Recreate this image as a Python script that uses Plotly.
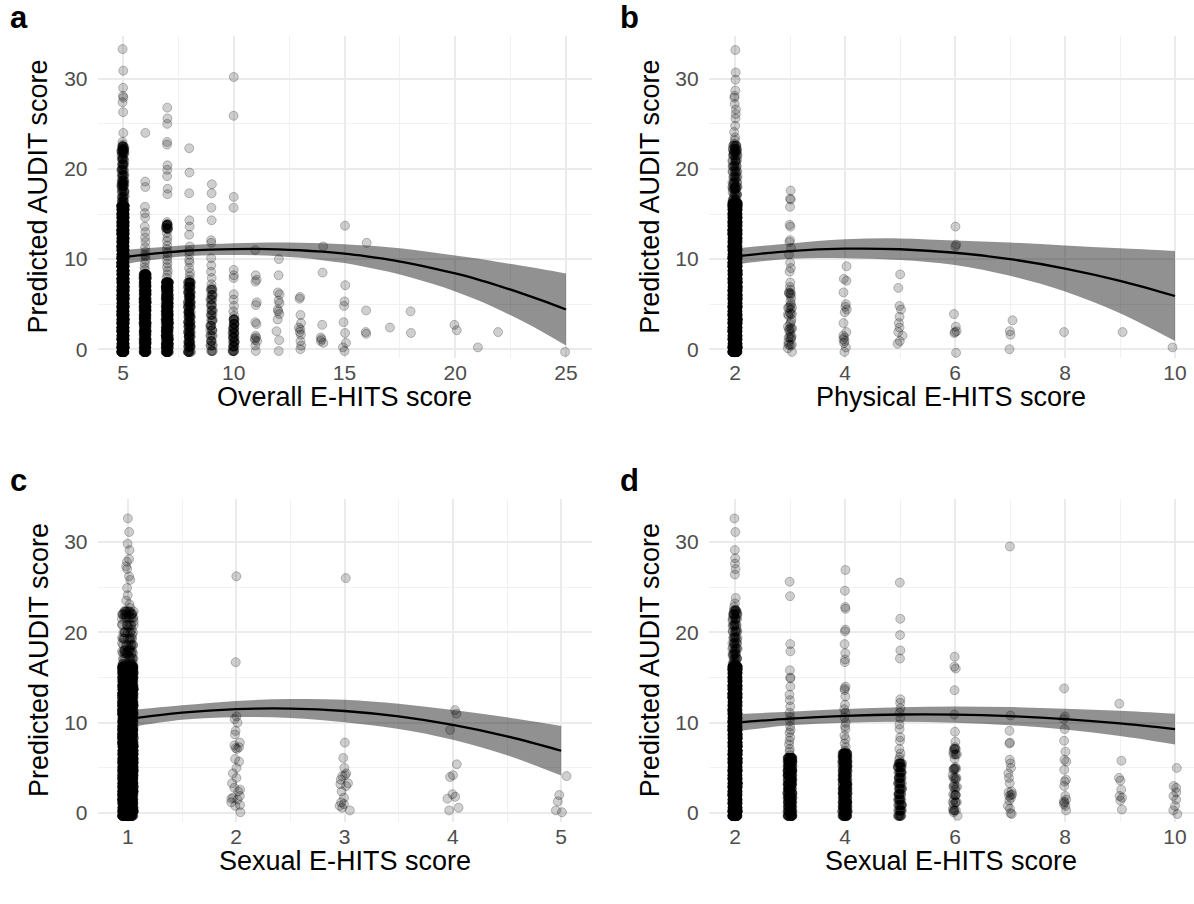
import plotly.graph_objects as go

FONT = "Liberation Sans, Arial, Helvetica, sans-serif"
W, H = 1194, 904

# ---------------------------------------------------------------- data
# Each column: individually visible points (SINGLE), values in the dark-grey part of a
# column (MID, MID_MULT respondents each), values inside the solid black part of a column
# (DENSE) and how many respondents sit on each DENSE value (MULT).

# Panel a : Overall E-HITS score
A_SINGLE = {
    5: [33.3, 30.9, 29.0, 28.1, 27.9, 27.4, 26.3, 24.0, 23.0, 22.7, 22.4, 22.1, 22.0, 21.8, 21.5,
        21.2, 20.9, 20.6, 20.3, 20.0, 19.7, 19.4, 19.1, 18.8, 18.5, 18.2, 18.0, 17.9, 17.7, 17.4,
        17.1, 16.8, 16.5, 16.3],
    6: [24.0, 18.6, 18.0, 15.8, 15.1, 14.6, 13.6, 13.0, 12.4, 11.9, 11.3, 10.8, 10.5, 10.3, 9.9,
        9.5, 9.1, 8.8],
    7: [26.8, 25.6, 25.0, 23.0, 22.7, 20.4, 19.9, 19.2, 17.8, 17.2, 14.1, 13.9, 13.7, 13.5, 13.3,
        12.9, 12.4, 12.0, 11.5, 11.1, 10.7, 10.3, 9.9, 9.5, 9.1, 8.7, 8.3, 7.9],
    8: [22.3, 19.6, 17.3, 14.3, 13.6, 12.7, 11.4, 10.9, 10.5, 9.9, 9.6, 9.0, 8.5, 8.1, 7.7],
    9: [18.3, 17.3, 15.7, 14.3, 12.1, 11.8, 10.1, 9.3, 8.6, 7.9, 7.2, 6.8],
    10: [30.2, 25.9, 16.9, 15.7, 8.8, 8.2, 7.9, 6.1, 5.5, 4.8, 4.2, 3.7],
    11: [11.0, 8.2, 7.7, 7.5, 5.2, 4.9, 3.0, 2.8, 1.5, 1.3, 1.2, 1.0, 0.9, 0.4, -0.2],
    12: [10.0, 8.2, 6.3, 6.1, 5.4, 5.1, 4.4, 4.2, 3.9, 3.3, 2.0, 1.0, -0.2],
    13: [5.8, 5.6, 3.8, 2.9, 2.4, 2.2, 1.9, 1.6, 0.9, 0.4, 0.0],
    14: [11.4, 8.5, 2.7, 1.3, 1.1, 0.9, 0.7],
    15: [13.7, 7.1, 5.3, 4.8, 3.0, 1.8, 0.7, 0.2, -0.2],
    16: [11.8, 4.3, 1.9, 1.7],
    17: [2.4],
    18: [4.2, 1.8],
    20: [2.7, 2.1],
    21: [0.2],
    22: [1.9],
    25: [-0.3],
}
A_MID = {
    5: [16.4, 16.9, 17.5, 18.1, 18.4, 18.7, 19.3, 19.9, 20.5, 21.1, 21.7, 22.0, 22.2, 22.5],
    7: [13.4, 13.8],
}
A_MID_MULT = 6
A_DENSE = {
    5: [-0.3, 0.2, 0.6, 1.1, 1.5, 2.0, 2.4, 2.9, 3.3, 3.8, 4.2, 4.7, 5.1, 5.6, 6.0, 6.5, 6.9, 7.4,
        7.8, 8.3, 8.7, 9.2, 9.6, 10.1, 10.5, 11.0, 11.4, 11.9, 12.3, 12.8, 13.2, 13.7, 14.1, 14.6,
        15.0, 15.5, 15.9],
    6: [-0.3, 0.2, 0.7, 1.1, 1.6, 2.0, 2.5, 2.9, 3.4, 3.8, 4.3, 4.7, 5.2, 5.6, 6.1, 6.5, 7.0, 7.4,
        7.9, 8.3],
    7: [-0.3, 0.2, 0.6, 1.1, 1.5, 2.0, 2.4, 2.9, 3.3, 3.8, 4.2, 4.7, 5.1, 5.6, 6.0, 6.5, 6.9, 7.4],
    8: [-0.3, 0.3, 0.8, 1.4, 1.9, 2.5, 3.0, 3.6, 4.1, 4.7, 5.2, 5.8, 6.3, 6.9, 7.4],
    9: [-0.2, 0.4, 0.9, 1.5, 2.1, 2.6, 3.2, 3.8, 4.3, 4.9, 5.5, 6.0, 6.6],
    10: [-0.2, 0.3, 0.8, 1.3, 1.8, 2.3, 2.8, 3.3],
}
A_MULT = {5: 60, 6: 22, 7: 22, 8: 10, 9: 4, 10: 6}
A_FIT_X = [5, 6, 7, 8, 9, 10, 11, 12, 13, 14, 15, 16, 17, 18, 19, 20, 21, 22, 23, 24, 25]
A_FIT = [10.2, 10.5, 10.75, 10.95, 11.05, 11.1, 11.12, 11.08, 10.98, 10.82, 10.6, 10.3, 9.95, 9.5,
         8.98, 8.4, 7.75, 7.0, 6.2, 5.33, 4.4]
A_LO = [9.4, 9.8, 10.13, 10.35, 10.43, 10.44, 10.42, 10.32, 10.14, 9.88, 9.55, 9.1, 8.6, 7.95,
        7.23, 6.4, 5.45, 4.35, 3.15, 1.83, 0.4]
A_HI = [11.0, 11.2, 11.37, 11.55, 11.67, 11.76, 11.82, 11.84, 11.82, 11.76, 11.65, 11.5, 11.3,
        11.05, 10.73, 10.4, 10.05, 9.65, 9.25, 8.83, 8.4]
A_XTICKS = [5, 10, 15, 20, 25]

# Panel b : Physical E-HITS score
B_SINGLE = {
    2: [33.2, 30.7, 29.9, 28.7, 28.1, 27.9, 27.2, 26.6, 26.1, 25.6, 24.8, 24.1, 23.5, 23.2, 22.8,
        22.5, 22.2, 22.0, 21.9, 21.6, 21.3, 21.0, 20.7, 20.4, 20.1, 19.8, 19.5, 19.2, 18.9, 18.6,
        18.3, 18.0, 17.9, 17.7, 17.4, 17.1, 16.8, 16.5],
    3: [17.6, 16.7, 16.6, 15.8, 13.8, 13.6, 12.1, 11.9, 11.2, 10.5, 9.6, 9.0, 8.6, 7.4, 6.9, 6.6,
        6.3, 6.0, 5.7, 5.3, 5.0, 4.8, 4.4, 4.0, 3.7, 3.3, 3.0, 2.8, 2.5, 2.2, 2.0, 1.7, 1.4, 1.1,
        0.8, 0.4, 0.1, -0.3],
    4: [9.2, 7.8, 7.6, 6.3, 5.0, 4.7, 4.4, 4.1, 2.9, 1.9, 1.5, 1.3, 1.1, 0.9, 0.7, 0.2, -0.3],
    5: [8.3, 6.8, 4.8, 4.4, 3.6, 2.9, 2.4, 1.9, 1.5, 0.9, 0.6],
    6: [13.6, 11.6, 11.4, 3.9, 2.5, 2.0, 1.9, 1.8, -0.4],
    7: [3.2, 2.0, 1.6, 0.0],
    8: [1.9],
    9: [1.9],
    10: [0.2],
}
B_MID = {
    2: [16.6, 17.2, 17.8, 18.0, 18.5, 19.1, 19.7, 20.3, 20.9, 21.5, 21.9, 22.2, 22.6],
}
B_MID_MULT = 6
B_DENSE = {
    2: [-0.3, 0.2, 0.6, 1.1, 1.5, 2.0, 2.4, 2.9, 3.3, 3.8, 4.2, 4.7, 5.1, 5.6, 6.0, 6.5, 6.9, 7.4,
        7.8, 8.3, 8.7, 9.2, 9.6, 10.1, 10.5, 11.0, 11.4, 11.9, 12.3, 12.8, 13.2, 13.7, 14.1, 14.6,
        15.0, 15.5, 15.9, 16.2],
    3: [0.5, 1.3, 2.3, 3.9, 4.6, 6.2],
}
B_MULT = {2: 60, 3: 3}
B_FIT_X = [2, 3, 4, 5, 6, 7, 8, 9, 10]
B_FIT = [10.3, 10.89, 11.15, 11.09, 10.7, 9.99, 8.95, 7.59, 5.9]
B_LO = [9.4, 10.04, 10.1, 9.89, 9.35, 8.14, 6.4, 3.99, 0.9]
B_HI = [11.2, 11.74, 12.2, 12.29, 12.05, 11.84, 11.5, 11.19, 10.9]
B_XTICKS = [2, 4, 6, 8, 10]

# Panel c : Sexual E-HITS score (1-5)
C_SINGLE = {
    1: [32.6, 31.1, 29.8, 29.1, 28.1, 27.8, 27.3, 27.0, 26.2, 25.8, 24.9, 24.1, 23.5, 23.1, 22.7,
        22.4, 22.1, 22.0, 21.8, 21.5, 21.2, 20.9, 20.6, 20.3, 20.0, 19.7, 19.4, 19.1, 18.8, 18.5,
        18.2, 17.9, 17.8, 17.6, 17.3, 17.0, 16.7, 16.4],
    2: [26.2, 16.7, 10.7, 10.4, 10.0, 9.1, 8.7, 7.8, 7.5, 7.3, 7.2, 7.1, 6.0, 5.7, 5.0, 4.4, 3.9,
        3.3, 2.8, 2.6, 2.4, 1.9, 1.7, 1.6, 1.5, 1.2, 0.9, 0.8, 0.1],
    3: [26.0, 7.8, 6.1, 5.0, 4.4, 4.2, 4.1, 3.7, 3.3, 3.2, 3.0, 2.4, 1.7, 1.2, 1.0, 0.8, 0.6, 0.3],
    4: [11.4, 11.0, 9.2, 5.4, 4.2, 4.0, 2.1, 1.8, 1.6, 0.6, 0.3],
    5: [4.1, 2.0, 1.3, 0.3, 0.1],
}
C_MID = {
    1: [16.5, 17.1, 17.7, 18.0, 18.6, 19.3, 20.0, 20.8, 21.6, 22.0, 22.3],
}
C_MID_MULT = 8
C_DENSE = {
    1: [-0.3, 0.2, 0.6, 1.1, 1.5, 2.0, 2.4, 2.9, 3.3, 3.8, 4.2, 4.7, 5.1, 5.6, 6.0, 6.5, 6.9, 7.4,
        7.8, 8.3, 8.7, 9.2, 9.6, 10.1, 10.5, 11.0, 11.4, 11.9, 12.3, 12.8, 13.2, 13.7, 14.1, 14.6,
        15.0, 15.5, 15.9, 16.2],
}
C_MULT = {1: 70}
C_FIT_X = [1, 1.5, 2, 2.5, 3, 3.5, 4, 4.5, 5]
C_FIT = [10.4, 11.12, 11.51, 11.57, 11.3, 10.7, 9.76, 8.5, 6.9]
C_LO = [9.45, 10.32, 10.61, 10.52, 10.05, 9.3, 8.11, 6.4, 4.15]
C_HI = [11.35, 11.92, 12.41, 12.62, 12.55, 12.1, 11.41, 10.6, 9.65]
C_XTICKS = [1, 2, 3, 4, 5]

# Panel d : Sexual E-HITS score (2-10)
D_SINGLE = {
    2: [32.6, 31.1, 29.1, 28.2, 27.6, 27.0, 26.4, 23.8, 23.2, 22.8, 22.5, 22.2, 22.0, 21.9, 21.6,
        21.3, 21.0, 20.7, 20.4, 20.1, 19.8, 19.5, 19.2, 18.9, 18.6, 18.3, 18.0, 17.9, 17.7, 17.4,
        17.1, 16.8, 16.5],
    3: [25.6, 24.0, 18.7, 17.9, 15.8, 15.0, 14.9, 14.0, 13.1, 12.5, 11.8, 11.1, 10.6, 10.2, 9.6,
        9.2, 8.9, 8.4, 8.0, 7.6, 7.1, 6.8, 6.4],
    4: [26.9, 24.6, 22.8, 22.6, 20.3, 20.1, 18.7, 17.7, 17.0, 16.7, 14.0, 13.8, 13.6, 12.9, 12.0,
        11.5, 11.1, 10.6, 10.0, 9.6, 9.3, 8.6, 8.2, 7.7, 7.3, 6.9],
    5: [25.5, 21.5, 19.7, 18.0, 17.1, 12.6, 12.2, 11.6, 11.1, 10.5, 9.8, 9.3, 8.4, 8.0, 7.1, 6.6,
        6.2, 5.9],
    6: [17.3, 16.2, 16.0, 13.6, 10.9, 9.0, 7.9, 7.3, 6.8, 6.0, 5.1, 4.8, 4.2, 3.7, 3.2, 2.6, 2.1,
        1.5, 1.0, 0.5, 0.1, -0.3],
    7: [29.5, 10.8, 9.1, 7.8, 7.7, 5.9, 5.5, 5.0, 4.4, 3.9, 3.3, 2.4, 2.3, 2.1, 2.0, 1.9, 1.7, 1.4,
        0.8, 0.5, 0.0, -0.1],
    8: [13.8, 10.7, 10.4, 9.3, 8.0, 6.8, 5.9, 5.7, 4.8, 3.7, 3.5, 3.0, 1.9, 1.5, 1.3, 1.2, 1.0,
        0.8, 0.3],
    9: [12.1, 5.8, 3.9, 3.6, 2.6, 1.9, 1.7, 1.4, 0.4],
    10: [5.0, 3.0, 2.8, 2.3, 1.9, 1.5, 0.8, 0.3, -0.1],
}
D_MID = {
    2: [16.5, 17.1, 17.6, 18.2, 18.8, 19.4, 20.1, 20.8, 21.5, 22.0, 22.4],
}
D_MID_MULT = 6
D_DENSE = {
    2: [-0.3, 0.2, 0.6, 1.1, 1.5, 2.0, 2.4, 2.9, 3.3, 3.8, 4.2, 4.7, 5.1, 5.6, 6.0, 6.5, 6.9, 7.4,
        7.8, 8.3, 8.7, 9.2, 9.6, 10.1, 10.5, 11.0, 11.4, 11.9, 12.3, 12.8, 13.2, 13.7, 14.1, 14.6,
        15.0, 15.5, 15.9, 16.2],
    3: [-0.3, 0.2, 0.7, 1.2, 1.7, 2.2, 2.7, 3.2, 3.7, 4.2, 4.7, 5.2, 5.7, 6.1],
    4: [-0.3, 0.2, 0.7, 1.2, 1.7, 2.2, 2.7, 3.2, 3.7, 4.2, 4.7, 5.2, 5.7, 6.2, 6.6],
    5: [-0.3, 0.3, 0.9, 1.5, 2.1, 2.7, 3.3, 3.9, 4.5, 5.1, 5.5],
    6: [0.3, 1.2, 2.0, 2.9, 3.9, 4.9, 6.5, 7.1],
}
D_MULT = {2: 60, 3: 22, 4: 22, 5: 9, 6: 4}
D_FIT_X = [2, 3, 4, 5, 6, 7, 8, 9, 10]
D_FIT = [10.0, 10.46, 10.76, 10.91, 10.9, 10.73, 10.41, 9.93, 9.3]
D_LO = [9.05, 9.71, 10.01, 10.11, 10.0, 9.73, 9.26, 8.53, 7.6]
D_HI = [10.95, 11.21, 11.51, 11.71, 11.8, 11.73, 11.56, 11.33, 11.0]
D_XTICKS = [2, 4, 6, 8, 10]

Y_TICKS = [0, 10, 20, 30]
Y_TITLE = "Predicted AUDIT score"
X_TITLES = ["Overall E-HITS score", "Physical E-HITS score",
            "Sexual E-HITS score", "Sexual E-HITS score"]
LETTERS = ["a", "b", "c", "d"]


def expand(single, mid, mid_mult, dense, mult):
    xs, ys = [], []
    for cat, vals in single.items():
        for v in vals:
            xs.append(cat)
            ys.append(v)
    for cat, vals in mid.items():
        for v in vals:
            for _ in range(mid_mult):
                xs.append(cat)
                ys.append(v)
    for cat, vals in dense.items():
        for v in vals:
            for _ in range(mult[cat]):
                xs.append(cat)
                ys.append(v)
    return xs, ys


# ---------------------------------------------------------------- layout geometry (window px)
COL_L = [97.5, 708.6]
COL_R = [591.5, 1194.0]
ROW_T = [36.0, 500.0]
ROW_B = [359.0, 824.0]
Y_RANGES = [[-1.0, 34.76], [-1.0, 34.76]]


def px_x(px):
    return px / W


def px_y(py):
    return 1 - py / H


panels = [
    dict(single=A_SINGLE, mid=A_MID, mm=A_MID_MULT, dense=A_DENSE, mult=A_MULT,
         fx=A_FIT_X, fy=A_FIT, lo=A_LO, hi=A_HI,
         ticks=A_XTICKS, rng=[3.85, 26.15], minor=2.5, width=0.15, col=0, row=0),
    dict(single=B_SINGLE, mid=B_MID, mm=B_MID_MULT, dense=B_DENSE, mult=B_MULT,
         fx=B_FIT_X, fy=B_FIT, lo=B_LO, hi=B_HI,
         ticks=B_XTICKS, rng=[1.52, 10.345], minor=1, width=0.10, col=1, row=0),
    dict(single=C_SINGLE, mid=C_MID, mm=C_MID_MULT, dense=C_DENSE, mult=C_MULT,
         fx=C_FIT_X, fy=C_FIT, lo=C_LO, hi=C_HI,
         ticks=C_XTICKS, rng=[0.72, 5.28], minor=0.5, width=0.11, col=0, row=1),
    dict(single=D_SINGLE, mid=D_MID, mm=D_MID_MULT, dense=D_DENSE, mult=D_MULT,
         fx=D_FIT_X, fy=D_FIT, lo=D_LO, hi=D_HI,
         ticks=D_XTICKS, rng=[1.52, 10.345], minor=1, width=0.10, col=1, row=1),
]

fig = go.Figure()
layout = dict(
    width=W, height=H, margin=dict(l=0, r=0, t=0, b=0),
    paper_bgcolor="white", plot_bgcolor="white", showlegend=False,
    font=dict(family=FONT, color="black"),
    annotations=[],
)

GRID = "#ebebeb"
MINOR = "#f1f1f1"
TICKFONT = dict(family=FONT, size=21, color="#4d4d4d")

for i, p in enumerate(panels):
    n = "" if i == 0 else str(i + 1)
    xa, ya = "x" + n, "y" + n
    xs, ys = expand(p["single"], p["mid"], p["mm"], p["dense"], p["mult"])

    fig.add_trace(go.Box(
        x=xs, y=ys, xaxis=xa, yaxis=ya,
        boxpoints="all", jitter=1, pointpos=0, width=p["width"],
        fillcolor="rgba(0,0,0,0)", line=dict(width=0, color="rgba(0,0,0,0)"),
        whiskerwidth=0,
        marker=dict(size=9, color="rgba(0,0,0,0.19)",
                    line=dict(width=1, color="rgba(0,0,0,0.24)")),
        hoverinfo="skip", showlegend=False,
    ))
    fig.add_trace(go.Scatter(
        x=p["fx"], y=p["lo"], xaxis=xa, yaxis=ya, mode="lines",
        line=dict(width=0, shape="spline", color="rgba(0,0,0,0)"),
        hoverinfo="skip", showlegend=False,
    ))
    fig.add_trace(go.Scatter(
        x=p["fx"], y=p["hi"], xaxis=xa, yaxis=ya, mode="lines",
        line=dict(width=0, shape="spline", color="rgba(0,0,0,0)"),
        fill="tonexty", fillcolor="rgba(0,0,0,0.43)",
        hoverinfo="skip", showlegend=False,
    ))
    fig.add_trace(go.Scatter(
        x=p["fx"], y=p["fy"], xaxis=xa, yaxis=ya, mode="lines",
        line=dict(width=2.3, shape="spline", color="black"),
        hoverinfo="skip", showlegend=False,
    ))

    c, r = p["col"], p["row"]
    layout["xaxis" + n] = dict(
        domain=[px_x(COL_L[c]), min(1.0, px_x(COL_R[c]))], anchor=ya, range=p["rng"],
        tickmode="array", tickvals=p["ticks"], ticktext=[str(t) for t in p["ticks"]],
        showgrid=True, gridcolor=GRID, gridwidth=2, zeroline=False, showline=False,
        ticks="", tickfont=TICKFONT,
        minor=dict(dtick=p["minor"], tick0=0, showgrid=True, gridcolor=MINOR, gridwidth=1),
        fixedrange=True,
    )
    layout["yaxis" + n] = dict(
        domain=[px_y(ROW_B[r]), px_y(ROW_T[r])], anchor=xa, range=Y_RANGES[r],
        tickmode="array", tickvals=Y_TICKS, ticktext=[str(t) for t in Y_TICKS],
        showgrid=True, gridcolor=GRID, gridwidth=2, zeroline=False, showline=False,
        ticks="", tickfont=TICKFONT, ticklabelstandoff=9,
        minor=dict(dtick=5, tick0=0, showgrid=True, gridcolor=MINOR, gridwidth=1),
        fixedrange=True,
    )

    cx = (COL_L[c] + COL_R[c]) / 2
    cy = (ROW_T[r] + ROW_B[r]) / 2
    layout["annotations"].append(dict(
        text=X_TITLES[i], xref="paper", yref="paper", x=px_x(cx), y=px_y(ROW_B[r] + 39),
        xanchor="center", yanchor="middle", showarrow=False,
        font=dict(family=FONT, size=27, color="black"),
    ))
    layout["annotations"].append(dict(
        text=Y_TITLE, xref="paper", yref="paper", x=px_x(COL_L[c] - 59), y=px_y(cy),
        xanchor="center", yanchor="middle", textangle=-90, showarrow=False,
        font=dict(family=FONT, size=27, color="black"),
    ))
    layout["annotations"].append(dict(
        text="<b>" + LETTERS[i] + "</b>", xref="paper", yref="paper",
        x=px_x(COL_L[c] - 79), y=px_y(ROW_T[r] - 18),
        xanchor="center", yanchor="middle", showarrow=False, borderpad=0,
        font=dict(family=FONT, size=31, color="black"),
    ))

fig.update_layout(**layout)
# the page's default 8px body margin would shift the figure; remove it
fig.write_html("out.html", config={"displayModeBar": False, "staticPlot": True},
               post_script="document.body.style.margin='0px';")
